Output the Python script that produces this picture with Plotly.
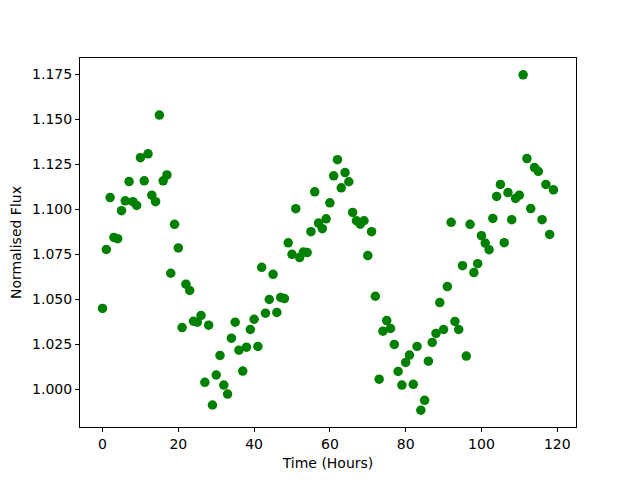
import plotly.graph_objects as go

hours = list(range(120))
flux = [
    1.0448, 1.0776, 1.1065, 1.0843, 1.0836, 1.0992, 1.1047, 1.1154, 1.1042, 1.1021,
    1.1287, 1.1158, 1.1308, 1.1078, 1.1042, 1.1524, 1.1158, 1.1191, 1.0644, 1.0916,
    1.0785, 1.0342, 1.0583, 1.0548, 1.0377, 1.0372, 1.0409, 1.0037, 1.0355, 0.9911,
    1.0078, 1.0187, 1.0022, 0.9972, 1.0283, 1.0372, 1.0216, 1.0100, 1.0233, 1.0331,
    1.0388, 1.0237, 1.0677, 1.0422, 1.0498, 1.0638, 1.0426, 1.0509, 1.0503, 1.0813,
    1.0749, 1.1003, 1.0731, 1.0762, 1.0759, 1.0875, 1.1097, 1.0923, 1.0892, 1.0947,
    1.1036, 1.1186, 1.1276, 1.1119, 1.1204, 1.1153, 1.0982, 1.0936, 1.0917, 1.0936,
    1.0742, 1.0875, 1.0516, 1.0055, 1.0322, 1.0381, 1.0337, 1.0248, 1.0098, 1.0022,
    1.0148, 1.0189, 1.0026, 1.0237, 0.9882, 0.9937, 1.0155, 1.0259, 1.0309, 1.0481,
    1.0331, 1.0570, 1.0927, 1.0376, 1.0331, 1.0686, 1.0183, 1.0916, 1.0648, 1.0697,
    1.0853, 1.0812, 1.0775, 1.0949, 1.1071, 1.1138, 1.0814, 1.1093, 1.0942, 1.1060,
    1.1078, 1.1748, 1.1282, 1.1004, 1.1232, 1.1211, 1.0942, 1.1138, 1.0860, 1.1108,
]
x_ticks = [0, 20, 40, 60, 80, 100, 120]
y_ticks = [1.000, 1.025, 1.050, 1.075, 1.100, 1.125, 1.150, 1.175]

xmin, xmax = min(hours), max(hours)
ymin, ymax = min(flux), max(flux)
xm = 0.05 * (xmax - xmin)
ym = 0.05 * (ymax - ymin)

fig = go.Figure(go.Scatter(
    x=hours, y=flux, mode="markers",
    marker=dict(color="#008000", size=9.5, line=dict(width=0)),
))

font = dict(family="DejaVu Sans", size=14, color="black")
axis_common = dict(
    showline=True, linecolor="black", linewidth=1, mirror=True,
    ticks="outside", ticklen=4, tickwidth=1, tickcolor="black",
    showgrid=False, zeroline=False, tickfont=font, automargin=False,
)
fig.update_layout(
    width=640, height=480,
    margin=dict(l=72, r=72, t=50, b=61, pad=0),
    plot_bgcolor="white", paper_bgcolor="white",
    showlegend=False, font=font,
    xaxis=dict(range=[xmin - xm, xmax + xm], tickvals=x_ticks,
               title=dict(text="Time (Hours)", font=font, standoff=7), **axis_common),
    yaxis=dict(range=[ymin - ym, ymax + ym], tickvals=y_ticks, tickformat=".3f",
               title=dict(text="Normalised Flux", font=font, standoff=10), **axis_common),
)
fig.write_html("out.html")
